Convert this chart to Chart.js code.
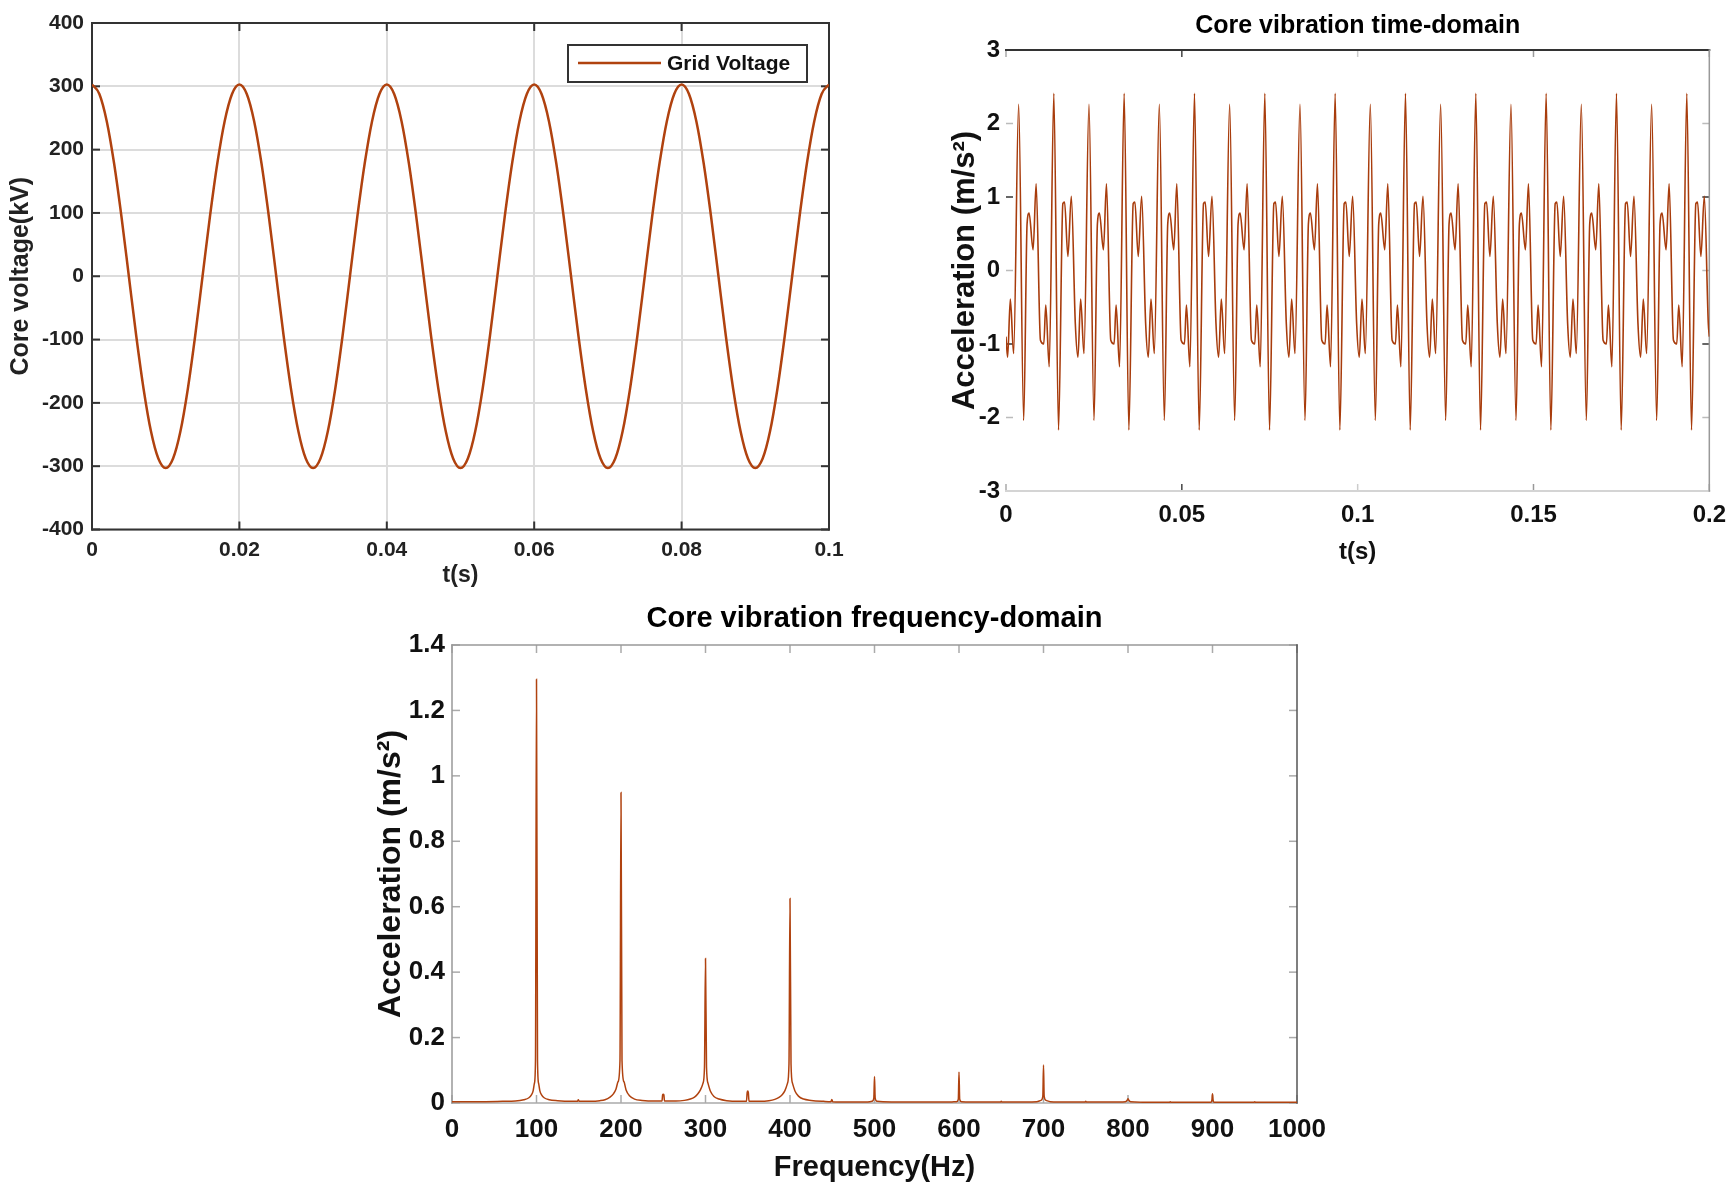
<!DOCTYPE html>
<html><head><meta charset="utf-8">
<script src="https://cdn.jsdelivr.net/npm/chart.js@4.4.1/dist/chart.umd.min.js"></script>
<style>
html,body{margin:0;padding:0;background:#fff;width:1736px;height:1196px;overflow:hidden;position:relative}
canvas{position:absolute}
#c1{left:0;top:0}
#c2{left:900px;top:0}
#c3{left:300px;top:590px}
</style></head><body>
<canvas id="c1" width="860" height="600"></canvas>
<canvas id="c2" width="836" height="600"></canvas>
<canvas id="c3" width="1100" height="606"></canvas>
<script>
// ---------- Chart 1: grid voltage ----------
const voltTime = [0,0.001,0.002,0.003,0.004,0.005,0.006,0.007,0.008,0.009,
0.01,0.011,0.012,0.013,0.014,0.015,0.016,0.017,0.018,0.019,
0.02,0.021,0.022,0.023,0.024,0.025,0.026,0.027,0.028,0.029,
0.03,0.031,0.032,0.033,0.034,0.035,0.036,0.037,0.038,0.039,
0.04,0.041,0.042,0.043,0.044,0.045,0.046,0.047,0.048,0.049,
0.05,0.051,0.052,0.053,0.054,0.055,0.056,0.057,0.058,0.059,
0.06,0.061,0.062,0.063,0.064,0.065,0.066,0.067,0.068,0.069,
0.07,0.071,0.072,0.073,0.074,0.075,0.076,0.077,0.078,0.079,
0.08,0.081,0.082,0.083,0.084,0.085,0.086,0.087,0.088,0.089,
0.09,0.091,0.092,0.093,0.094,0.095,0.096,0.097,0.098,0.099,0.1];
const voltValue = [303,288,245,178,94,0,-94,-178,-245,-288,-303,-288,-245,-178,-94,0,94,178,245,288,
303,288,245,178,94,0,-94,-178,-245,-288,-303,-288,-245,-178,-94,0,94,178,245,288,
303,288,245,178,94,0,-94,-178,-245,-288,-303,-288,-245,-178,-94,0,94,178,245,288,
303,288,245,178,94,0,-94,-178,-245,-288,-303,-288,-245,-178,-94,0,94,178,245,288,
303,288,245,178,94,0,-94,-178,-245,-288,-303,-288,-245,-178,-94,0,94,178,245,288,303];
const voltXTicks = [0,0.02,0.04,0.06,0.08,0.1];
const voltYTicks = [-400,-300,-200,-100,0,100,200,300,400];

// ---------- Chart 2: vibration time domain ----------
const vibTime = [0,0.00046,0.00123,0.00217,0.0036,0.00503,0.006,0.00657,0.00771,0.00857,0.0098,0.01074,0.01131,0.01229,
0.0136,0.01494,0.01617,0.01666,0.0176,0.01857,0.01971,0.02046,0.02123,0.02217,0.0236,0.02503,0.026,0.02657,0.02771,0.02857,0.0298,0.03074,0.03131,0.03229,
0.0336,0.03494,0.03617,0.03666,0.0376,0.03857,0.03971,0.04046,0.04123,0.04217,0.0436,0.04503,0.046,0.04657,0.04771,0.04857,0.0498,0.05074,0.05131,0.05229,
0.0536,0.05494,0.05617,0.05666,0.0576,0.05857,0.05971,0.06046,0.06123,0.06217,0.0636,0.06503,0.066,0.06657,0.06771,0.06857,0.0698,0.07074,0.07131,0.07229,
0.0736,0.07494,0.07617,0.07666,0.0776,0.07857,0.07971,0.08046,0.08123,0.08217,0.0836,0.08503,0.086,0.08657,0.08771,0.08857,0.0898,0.09074,0.09131,0.09229,
0.0936,0.09494,0.09617,0.09666,0.0976,0.09857,0.09971,0.10046,0.10123,0.10217,0.1036,0.10503,0.106,0.10657,0.10771,0.10857,0.1098,0.11074,0.11131,0.11229,
0.1136,0.11494,0.11617,0.11666,0.1176,0.11857,0.11971,0.12046,0.12123,0.12217,0.1236,0.12503,0.126,0.12657,0.12771,0.12857,0.1298,0.13074,0.13131,0.13229,
0.1336,0.13494,0.13617,0.13666,0.1376,0.13857,0.13971,0.14046,0.14123,0.14217,0.1436,0.14503,0.146,0.14657,0.14771,0.14857,0.1498,0.15074,0.15131,0.15229,
0.1536,0.15494,0.15617,0.15666,0.1576,0.15857,0.15971,0.16046,0.16123,0.16217,0.1636,0.16503,0.166,0.16657,0.16771,0.16857,0.1698,0.17074,0.17131,0.17229,
0.1736,0.17494,0.17617,0.17666,0.1776,0.17857,0.17971,0.18046,0.18123,0.18217,0.1836,0.18503,0.186,0.18657,0.18771,0.18857,0.1898,0.19074,0.19131,0.19229,
0.1936,0.19494,0.19617,0.19666,0.1976,0.19857,0.19971,0.2];
const vibAccel = [-0.9,-1.18,-0.39,-1.13,2.26,-2.04,0.64,0.78,0.28,1.18,-0.95,-1.0,-0.47,-1.31,
2.41,-2.17,0.91,0.93,0.19,1.01,-0.72,-1.18,-0.39,-1.13,2.26,-2.04,0.64,0.78,0.28,1.18,-0.95,-1.0,-0.47,-1.31,
2.41,-2.17,0.91,0.93,0.19,1.01,-0.72,-1.18,-0.39,-1.13,2.26,-2.04,0.64,0.78,0.28,1.18,-0.95,-1.0,-0.47,-1.31,
2.41,-2.17,0.91,0.93,0.19,1.01,-0.72,-1.18,-0.39,-1.13,2.26,-2.04,0.64,0.78,0.28,1.18,-0.95,-1.0,-0.47,-1.31,
2.41,-2.17,0.91,0.93,0.19,1.01,-0.72,-1.18,-0.39,-1.13,2.26,-2.04,0.64,0.78,0.28,1.18,-0.95,-1.0,-0.47,-1.31,
2.41,-2.17,0.91,0.93,0.19,1.01,-0.72,-1.18,-0.39,-1.13,2.26,-2.04,0.64,0.78,0.28,1.18,-0.95,-1.0,-0.47,-1.31,
2.41,-2.17,0.91,0.93,0.19,1.01,-0.72,-1.18,-0.39,-1.13,2.26,-2.04,0.64,0.78,0.28,1.18,-0.95,-1.0,-0.47,-1.31,
2.41,-2.17,0.91,0.93,0.19,1.01,-0.72,-1.18,-0.39,-1.13,2.26,-2.04,0.64,0.78,0.28,1.18,-0.95,-1.0,-0.47,-1.31,
2.41,-2.17,0.91,0.93,0.19,1.01,-0.72,-1.18,-0.39,-1.13,2.26,-2.04,0.64,0.78,0.28,1.18,-0.95,-1.0,-0.47,-1.31,
2.41,-2.17,0.91,0.93,0.19,1.01,-0.72,-1.18,-0.39,-1.13,2.26,-2.04,0.64,0.78,0.28,1.18,-0.95,-1.0,-0.47,-1.31,
2.41,-2.17,0.91,0.93,0.19,1.01,-0.72,-0.9];
const vibXTicks = [0,0.05,0.1,0.15,0.2];
const vibYTicks = [-3,-2,-1,0,1,2,3];

// ---------- Chart 3: vibration frequency domain ----------
const specFreq = [0,30,60,75,85,91,94,96,97.5,98.8,100,101.2,102.5,104,106,109,115,125,140,148.5,149.5,150.5,165,175,181,187,191,194,196.5,198.8,200,201.2,203.5,206,210,216,225,240,248.5,249.3,250,250.7,251.5,265,275,282,287,291,294,297,298.8,300,301.2,303,306,310,316,325,340,348.5,349.3,350,350.7,351.5,365,375,382,387,391,394,397,398.8,400,401.2,403,406,410,416,425,440,448.5,449.5,450.5,470,490,497,499.2,500,500.8,503,520,560,590,597,599.2,600,600.8,603,630,649,650,651,680,692,697,699.2,700,700.8,703,708,730,749,750,751,780,797,799.2,800,800.8,803,830,849,850,851,880,898,899.4,900,900.6,902,930,949,950,951,980,1000];
const specAmp = [0.004,0.004,0.005,0.006,0.010,0.016,0.025,0.037,0.06,0.13,1.295,0.13,0.06,0.037,0.025,0.016,0.010,0.007,0.005,0.005,0.010,0.005,0.005,0.007,0.010,0.018,0.028,0.042,0.065,0.13,0.949,0.13,0.065,0.04,0.022,0.012,0.008,0.006,0.006,0.025,0.027,0.025,0.006,0.006,0.008,0.012,0.018,0.028,0.04,0.06,0.11,0.442,0.11,0.06,0.035,0.02,0.012,0.007,0.005,0.005,0.032,0.037,0.032,0.005,0.005,0.007,0.011,0.017,0.026,0.038,0.06,0.12,0.625,0.12,0.06,0.036,0.021,0.012,0.008,0.005,0.004,0.011,0.004,0.003,0.003,0.005,0.015,0.081,0.015,0.005,0.003,0.003,0.003,0.004,0.012,0.095,0.012,0.004,0.003,0.003,0.005,0.003,0.003,0.004,0.008,0.02,0.116,0.02,0.008,0.004,0.003,0.003,0.005,0.003,0.003,0.004,0.009,0.013,0.009,0.004,0.002,0.002,0.004,0.002,0.002,0.002,0.01,0.028,0.01,0.002,0.002,0.002,0.004,0.002,0.002,0.002];
const specXTicks = [0,100,200,300,400,500,600,700,800,900,1000];
const specYTicks = [0,0.2,0.4,0.6,0.8,1,1.2,1.4];

// ---------- shared ----------
const LINE = '#B0420F';
const LINE2 = '#A83C0C';
const FONT = "'Liberation Sans', Arial, sans-serif";
Chart.defaults.font.family = FONT;
Chart.defaults.color = '#111';

function pts(xs, ys){ return xs.map((x,i)=>({x:x, y:ys[i]})); }
function fmt(v){ return String(+Number(v).toFixed(4)); }
function fixedTicks(arr){ return function(scale){ scale.ticks = arr.map(v=>({value:v})); }; }

const axisDecor = {
  id: 'axisDecor',
  beforeDatasetsDraw(chart, args, o) {
    if (!o || !o.tickLen) return;
    const {ctx, chartArea:a, scales} = chart;
    ctx.save();
    ctx.lineCap = 'butt';
    const drawTick = (x1,y1,x2,y2,col)=>{ctx.strokeStyle=col;ctx.beginPath();ctx.moveTo(x1,y1);ctx.lineTo(x2,y2);ctx.stroke();};
    ctx.lineWidth = o.tickWidth;
    const L = o.tickLen;
    scales.x.ticks.forEach((t,i)=>{
      const p = scales.x.getPixelForValue(t.value);
      const c = o.tickColors ? o.tickColors.x[i % o.tickColors.x.length] : o.tickColor;
      drawTick(p, a.bottom, p, a.bottom - L, c);
      drawTick(p, a.top, p, a.top + L, c);
    });
    scales.y.ticks.forEach((t,i)=>{
      const p = scales.y.getPixelForValue(t.value);
      const c = o.tickColors ? o.tickColors.y[i % o.tickColors.y.length] : o.tickColor;
      drawTick(a.left, p, a.left + L, p, c);
      drawTick(a.right, p, a.right - L, p, c);
    });
    const f = o.frame;
    const side = (s, x1,y1,x2,y2)=>{ if(!f[s]) return; ctx.lineWidth=f[s].w; ctx.strokeStyle=f[s].c; ctx.beginPath(); ctx.moveTo(x1,y1); ctx.lineTo(x2,y2); ctx.stroke(); };
    ctx.lineCap = 'square';
    side('top', a.left, a.top, a.right, a.top);
    side('bottom', a.left, a.bottom, a.right, a.bottom);
    side('left', a.left, a.top, a.left, a.bottom);
    side('right', a.right, a.top, a.right, a.bottom);
    ctx.restore();
  }
};

const boxLegend = {
  id: 'boxLegend',
  afterDatasetsDraw(chart) {
    const {ctx, chartArea:a} = chart;
    const ds = chart.data.datasets[0];
    const x0 = a.right - 261, y0 = a.top + 22, w = 239, h = 37;
    ctx.save();
    ctx.fillStyle = '#fff';
    ctx.fillRect(x0, y0, w, h);
    ctx.lineWidth = 2; ctx.strokeStyle = '#333';
    ctx.strokeRect(x0, y0, w, h);
    ctx.strokeStyle = ds.borderColor; ctx.lineWidth = 2.5;
    ctx.beginPath(); ctx.moveTo(x0 + 10, y0 + 18); ctx.lineTo(x0 + 93, y0 + 18); ctx.stroke();
    ctx.fillStyle = '#111';
    ctx.font = "bold 21px " + FONT;
    ctx.textBaseline = 'middle'; ctx.textAlign = 'left';
    ctx.fillText(ds.label, x0 + 99, y0 + 19);
    ctx.restore();
  }
};

function lineDs(label, data, width, color){
  return {label, data, borderColor: color || LINE, borderWidth: width, pointRadius: 0,
    cubicInterpolationMode: 'monotone', fill: false};
}

// Chart 1
new Chart(document.getElementById('c1'), {
  type: 'line',
  data: { datasets: [lineDs('Grid Voltage', pts(voltTime, voltValue), 2.5)] },
  plugins: [axisDecor, boxLegend],
  options: {
    responsive: false, animation: false, events: [],
    layout: { padding: { top: 23, right: 31, left: 0, bottom: 0 } },
    plugins: { legend: { display: false }, tooltip: { enabled: false },
      axisDecor: { tickLen: 8, tickWidth: 2, tickColor: '#333',
        frame: { top:{c:'#333',w:2}, bottom:{c:'#333',w:2}, left:{c:'#333',w:2}, right:{c:'#333',w:2} } } },
    scales: {
      x: { type: 'linear', min: 0, max: 0.1, afterBuildTicks: fixedTicks(voltXTicks),
        afterFit: s => { s.height = 70.5; },
        grid: { color: '#dcdcdc', lineWidth: 2, drawTicks: false }, border: { display: false },
        ticks: { autoSkip: false, maxRotation: 0, padding: 8, callback: fmt, color: '#222', font: { size: 21, weight: 'bold' } },
        title: { display: true, text: 't(s)', color: '#222', font: { size: 23, weight: 'bold' }, padding: { top: 0, bottom: 11 } } },
      y: { type: 'linear', min: -400, max: 400, afterBuildTicks: fixedTicks(voltYTicks),
        afterFit: s => { s.width = 92; },
        grid: { color: '#dcdcdc', lineWidth: 2, drawTicks: false }, border: { display: false },
        ticks: { padding: 8, callback: fmt, color: '#222', font: { size: 21, weight: 'bold' } },
        title: { display: true, text: 'Core voltage(kV)', color: '#222', font: { size: 25, weight: 'bold' }, padding: { top: 6, bottom: 0 } } }
    }
  }
});

// Chart 2
new Chart(document.getElementById('c2'), {
  type: 'line',
  data: { datasets: [lineDs('Core vibration', pts(vibTime, vibAccel), 1.6, LINE2)] },
  plugins: [axisDecor],
  options: {
    responsive: false, animation: false, events: [],
    layout: { padding: { top: 0, right: 24, left: 0, bottom: 0 } },
    plugins: { legend: { display: false }, tooltip: { enabled: false },
      title: { display: true, fullSize: false, text: 'Core vibration time-domain', color: '#000',
        font: { size: 25, weight: 'bold' }, padding: { top: 11, bottom: 9 } },
      axisDecor: { tickLen: 7, tickWidth: 1.5, tickColor: '#888',
        tickColors: { x: ['#aaa','#444','#ccc','#999','#aaa'], y: ['#aaa','#bbb','#333','#bbb','#333','#bbb','#aaa'] },
        frame: { top:{c:'#333',w:2}, bottom:{c:'#d4d4d4',w:2}, right:{c:'#999',w:1.5} } } },
    scales: {
      x: { type: 'linear', min: 0, max: 0.2, afterBuildTicks: fixedTicks(vibXTicks),
        afterFit: s => { s.height = 109; },
        grid: { display: false, drawTicks: false }, border: { display: false },
        ticks: { autoSkip: false, maxRotation: 0, padding: 10, callback: fmt, color: '#111', font: { size: 24, weight: 'bold' } },
        title: { display: true, text: 't(s)', color: '#111', font: { size: 24, weight: 'bold' }, padding: { top: 0, bottom: 33 } } },
      y: { type: 'linear', min: -3, max: 3, afterBuildTicks: fixedTicks(vibYTicks),
        afterFit: s => { s.width = 106; },
        grid: { display: false, drawTicks: false }, border: { display: false },
        ticks: { padding: 6, callback: fmt, color: '#111', font: { size: 24, weight: 'bold' } },
        title: { display: true, text: 'Acceleration (m/s²)', color: '#111', font: { size: 31, weight: 'bold' }, padding: { top: 47, bottom: 0 } } }
    }
  }
});

// Chart 3
new Chart(document.getElementById('c3'), {
  type: 'line',
  data: { datasets: [lineDs('Spectrum', pts(specFreq, specAmp), 1.5)] },
  plugins: [axisDecor],
  options: {
    responsive: false, animation: false, events: [],
    layout: { padding: { top: 0, right: 103, left: 0, bottom: 0 } },
    plugins: { legend: { display: false }, tooltip: { enabled: false },
      title: { display: true, fullSize: false, text: 'Core vibration frequency-domain', color: '#000',
        font: { size: 29, weight: 'bold' }, padding: { top: 12, bottom: 8.2 } },
      axisDecor: { tickLen: 8, tickWidth: 1.5, tickColor: '#aaa',
        frame: { top:{c:'#999',w:1.5}, bottom:{c:'#aaa',w:1.5}, left:{c:'#999',w:1.5}, right:{c:'#555',w:1.5} } } },
    scales: {
      x: { type: 'linear', min: 0, max: 1000, afterBuildTicks: fixedTicks(specXTicks),
        afterFit: s => { s.height = 93; },
        grid: { display: false, drawTicks: false }, border: { display: false },
        ticks: { autoSkip: false, maxRotation: 0, padding: 11, callback: fmt, color: '#111', font: { size: 26, weight: 'bold' } },
        title: { display: true, text: 'Frequency(Hz)', color: '#111', font: { size: 29, weight: 'bold' }, padding: { top: 0, bottom: 10.6 } } },
      y: { type: 'linear', min: 0, max: 1.4, afterBuildTicks: fixedTicks(specYTicks),
        afterFit: s => { s.width = 152; },
        grid: { display: false, drawTicks: false }, border: { display: false },
        ticks: { padding: 7, callback: fmt, color: '#111', font: { size: 26, weight: 'bold' } },
        title: { display: true, text: 'Acceleration (m/s²)', color: '#111', font: { size: 32, weight: 'bold' }, padding: { top: 72, bottom: 0 } } }
    }
  }
});
</script>
</body></html>
